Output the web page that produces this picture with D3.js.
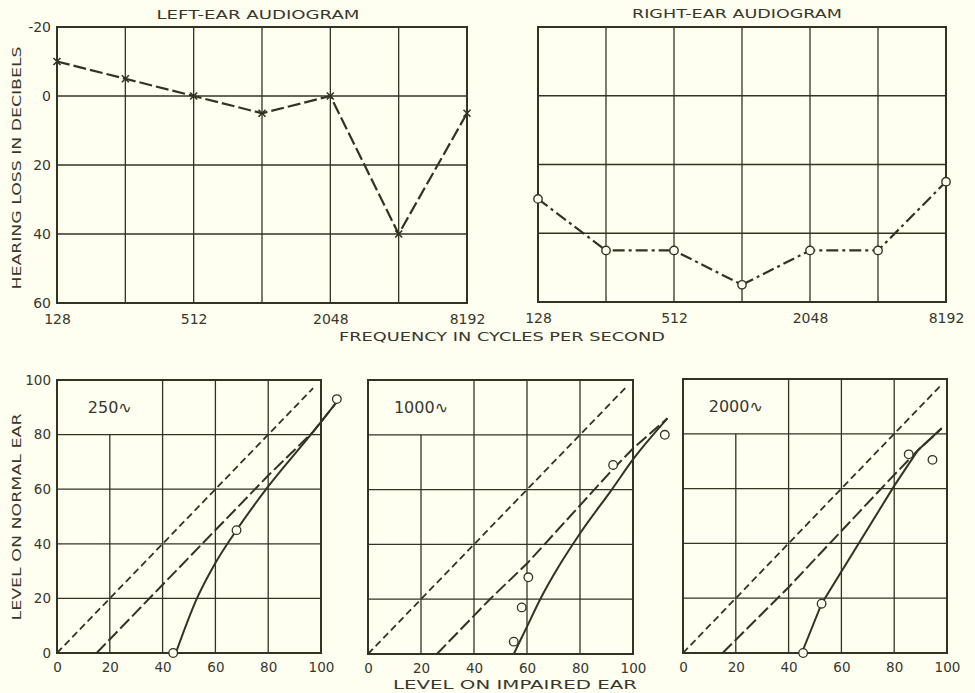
<!DOCTYPE html>
<html><head><meta charset="utf-8">
<script src="https://cdn.jsdelivr.net/npm/d3@7"></script>
<style>
html,body{margin:0;padding:0;background:#fefef1;}
svg{display:block;}
text{font-family:"DejaVu Sans",sans-serif;fill:#38382a;}
</style></head>
<body>
<svg id="chart" width="975" height="693"></svg>
<script>
// ---------- DATA ----------
const freqs = [128, 256, 512, 1024, 2048, 4096, 8192];
const leftEarLoss = [-10, -5, 0, 5, 0, 40, 5];
const rightEarLoss = [30, 45, 45, 55, 45, 45, 25];
const freqTickLabels = [128, 512, 2048, 8192];
const lossTicks = [-20, 0, 20, 40, 60];

const levelTicks = [0, 20, 40, 60, 80, 100];
const panelLabels = ["250∿", "1000∿", "2000∿"];

// equal-loudness reference (normal ear = impaired ear)
const equal250 = [[0, 0], [97, 97]];
const equal1000 = [[0, 0], [98, 98]];
const equal2000 = [[0, 0], [98, 98]];

// long-dashed balance lines
const dashed250 = [[15, 0], [40, 25], [80, 65], [97, 81], [106, 92]];
const dashed1000 = [[26, 0], [46, 20], [60, 33], [92, 67], [100, 75], [113, 86]];
const dashed2000 = [[15, 0], [40, 24], [78, 63], [89, 74], [98, 82]];

// solid balance curves
const solid250 = [[45, 0], [53, 20], [60, 33], [68, 45], [80, 61], [97, 81], [106, 92]];
const solid1000 = [[55, 0], [60, 10], [65, 20], [72, 32], [80, 44], [92, 60], [100, 71], [113, 86]];
const solid2000 = [[45, 0], [52.5, 18], [80, 61], [89, 74], [98, 82]];

// observed points
const obs250 = [[44, 0], [68, 45], [106, 93]];
const obs1000 = [[55, 4.5], [58, 17], [60.5, 28], [92.5, 69], [112, 80]];
const obs2000 = [[45.5, 0], [52.5, 18], [85.5, 72.5], [94.5, 70.5]];

// ---------- DRAWING ----------
const ink = "#34331f";
const svg = d3.select("#chart");
const fmt = d => String(d);  // plain hyphen for negatives

function addText(x, y, str, opts = {}) {
  const t = svg.append("text")
    .attr("x", x).attr("y", y)
    .attr("text-anchor", opts.anchor || "middle")
    .attr("font-size", opts.size || 13)
    .text(str);
  if (opts.len) t.attr("textLength", opts.len).attr("lengthAdjust", "spacingAndGlyphs");
  if (opts.rotate) t.attr("transform", `rotate(-90,${x},${y})`);
  return t;
}

// ---- Audiograms ----
function audiogram(xr, yr, values, marker, dash, showY) {
  const x = d3.scaleLog().base(2).domain([128, 8192]).range(xr);
  const y = d3.scaleLinear().domain([-20, 60]).range(yr);
  const g = svg.append("g");
  g.selectAll(".vg").data(freqs).join("line")
    .attr("x1", d => x(d)).attr("x2", d => x(d))
    .attr("y1", yr[0]).attr("y2", yr[1])
    .attr("stroke", ink).attr("stroke-width", 1.3);
  g.selectAll(".hg").data(lossTicks).join("line")
    .attr("x1", xr[0]).attr("x2", xr[1])
    .attr("y1", d => y(d)).attr("y2", d => y(d))
    .attr("stroke", ink).attr("stroke-width", 1.3);
  g.append("rect").attr("x", xr[0]).attr("y", yr[0])
    .attr("width", xr[1] - xr[0]).attr("height", yr[1] - yr[0])
    .attr("fill", "none").attr("stroke", ink).attr("stroke-width", 2);
  const ax = g.append("g").attr("transform", `translate(0,${yr[1] + 21})`)
    .call(d3.axisBottom(x).tickValues(freqTickLabels).tickFormat(fmt).tickSize(0).tickPadding(0));
  ax.select(".domain").remove();
  ax.selectAll("text").attr("font-size", 14).attr("font-family", "DejaVu Sans").attr("fill", "#38382a").attr("dy", 0);
  if (showY) {
    const ay = g.append("g").attr("transform", `translate(${xr[0] - 6},0)`)
      .call(d3.axisLeft(y).tickValues(lossTicks).tickFormat(fmt).tickSize(0).tickPadding(0));
    ay.select(".domain").remove();
    ay.selectAll("text").attr("font-size", 14).attr("font-family", "DejaVu Sans").attr("fill", "#38382a");
  }
  const pts = freqs.map((f, i) => [x(f), y(values[i])]);
  g.append("path").attr("d", d3.line()(pts))
    .attr("fill", "none").attr("stroke", ink).attr("stroke-width", 2.2)
    .attr("stroke-dasharray", dash);
  if (marker === "x") {
    const s = 3.5;
    g.selectAll(".mk").data(pts).join("path")
      .attr("d", d => `M${d[0]-s},${d[1]-s}L${d[0]+s},${d[1]+s}M${d[0]-s},${d[1]+s}L${d[0]+s},${d[1]-s}`)
      .attr("stroke", ink).attr("stroke-width", 1.6);
  } else {
    g.selectAll(".mk").data(pts).join("circle")
      .attr("cx", d => d[0]).attr("cy", d => d[1]).attr("r", 4.2)
      .attr("fill", "#fefef1").attr("stroke", ink).attr("stroke-width", 1.4);
  }
}

audiogram([57, 467], [27, 303], leftEarLoss, "x", "13,4", true);
audiogram([538, 946], [27, 302], rightEarLoss, "o", "12,4,3,4", false);

addText(258, 19, "LEFT-EAR AUDIOGRAM", {size: 13, len: 203});
addText(737, 18, "RIGHT-EAR AUDIOGRAM", {size: 13, len: 210});
addText(502, 341, "FREQUENCY IN CYCLES PER SECOND", {size: 12, len: 326});
addText(21, 168, "HEARING LOSS IN DECIBELS", {size: 12, len: 243, rotate: true});

// ---- Loudness balance panels ----
const panels = [
  {xr: [57, 321], yr: [653, 380], label: panelLabels[0], eq: equal250, dashed: dashed250, solid: solid250, obs: obs250, showY: true, smooth: true},
  {xr: [368, 633], yr: [654, 380], label: panelLabels[1], eq: equal1000, dashed: dashed1000, solid: solid1000, obs: obs1000, showY: false, smooth: true},
  {xr: [683, 947], yr: [653, 379], label: panelLabels[2], eq: equal2000, dashed: dashed2000, solid: solid2000, obs: obs2000, showY: false, smooth: false}
];

panels.forEach(p => {
  const x = d3.scaleLinear().domain([0, 100]).range(p.xr);
  const y = d3.scaleLinear().domain([0, 100]).range(p.yr);
  const g = svg.append("g");
  g.selectAll(".vg").data(levelTicks.slice(1, -1)).join("line")
    .attr("x1", d => x(d)).attr("x2", d => x(d))
    .attr("y1", y(0)).attr("y2", d => d === 20 ? y(80) : y(100))
    .attr("stroke", ink).attr("stroke-width", 1.3);
  g.selectAll(".hg").data(levelTicks.slice(1, -1)).join("line")
    .attr("x1", x(0)).attr("x2", x(100))
    .attr("y1", d => y(d)).attr("y2", d => y(d))
    .attr("stroke", ink).attr("stroke-width", 1.3);
  g.append("rect").attr("x", x(0)).attr("y", y(100))
    .attr("width", x(100) - x(0)).attr("height", y(0) - y(100))
    .attr("fill", "none").attr("stroke", ink).attr("stroke-width", 2);
  const ax = g.append("g").attr("transform", `translate(0,${y(0) + 19})`)
    .call(d3.axisBottom(x).tickValues(levelTicks).tickFormat(fmt).tickSize(0).tickPadding(0));
  ax.select(".domain").remove();
  ax.selectAll("text").attr("font-size", 13.5).attr("font-family", "DejaVu Sans").attr("fill", "#38382a").attr("dy", 0);
  if (p.showY) {
    const ay = g.append("g").attr("transform", `translate(${x(0) - 6},0)`)
      .call(d3.axisLeft(y).tickValues(levelTicks).tickFormat(fmt).tickSize(0).tickPadding(0));
    ay.select(".domain").remove();
    ay.selectAll("text").attr("font-size", 13.5).attr("font-family", "DejaVu Sans").attr("fill", "#38382a");
  }
  g.append("text").attr("x", x(20)).attr("y", y(90) + 6)
    .attr("text-anchor", "middle").attr("font-size", 16).text(p.label);
  const line = d3.line().x(d => x(d[0])).y(d => y(d[1]));
  const curve = d3.line().x(d => x(d[0])).y(d => y(d[1])).curve(d3.curveMonotoneX);
  g.append("path").attr("d", line(p.eq)).attr("fill", "none")
    .attr("stroke", ink).attr("stroke-width", 1.8).attr("stroke-dasharray", "7,4");
  g.append("path").attr("d", line(p.dashed)).attr("fill", "none")
    .attr("stroke", ink).attr("stroke-width", 2).attr("stroke-dasharray", "13,4");
  g.append("path").attr("d", (p.smooth ? curve : line)(p.solid)).attr("fill", "none")
    .attr("stroke", ink).attr("stroke-width", 2);
  g.selectAll(".ob").data(p.obs).join("circle")
    .attr("cx", d => x(d[0])).attr("cy", d => y(d[1])).attr("r", 4.3)
    .attr("fill", "#fefef1").attr("stroke", ink).attr("stroke-width", 1.3);
});

addText(515, 689, "LEVEL ON IMPAIRED EAR", {size: 12, len: 244});
addText(21, 517, "LEVEL ON NORMAL EAR", {size: 12, len: 207, rotate: true});
</script>
</body></html>
